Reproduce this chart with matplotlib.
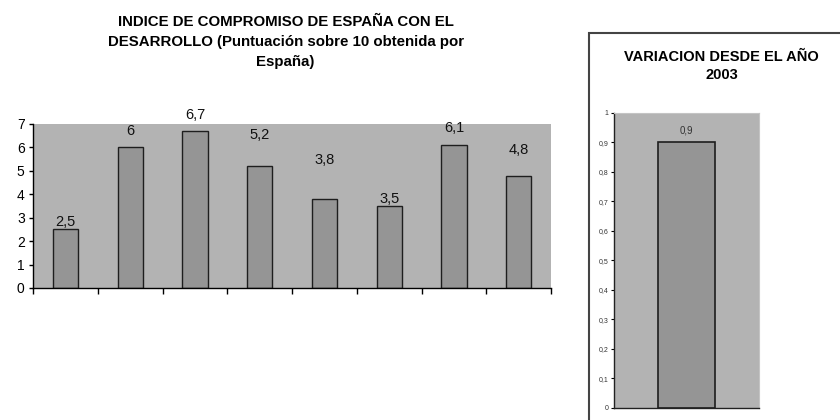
import matplotlib
matplotlib.use("Agg")
import matplotlib.pyplot as plt
from matplotlib.patches import Rectangle
import numpy as np

plt.rcParams['font.family'] = ['Liberation Sans', 'DejaVu Sans']

# Puntuación sobre 10 obtenida por España en cada componente del índice
scores = [2.5, 6.0, 6.7, 5.2, 3.8, 3.5, 6.1, 4.8]
# Altura extra de cada etiqueta sobre su barra
label_offsets = [0.32, 0.7, 0.7, 1.34, 1.67, 0.3, 0.74, 1.1]
y_ticks = [0, 1, 2, 3, 4, 5, 6, 7]

# Variación desde el año 2003
variation = [0.9]
var_ticks = [0, 0.1, 0.2, 0.3, 0.4, 0.5, 0.6, 0.7, 0.8, 0.9, 1.0]

plot_bg = '#b3b3b3'
bar_color = '#959595'
edge = '#1e1e1e'

def fmt(v):
    return f"{v:g}".replace('.', ',')

fig = plt.figure(figsize=(8.4, 4.2), dpi=100)
fig.patch.set_facecolor('white')

# ---- Gráfico principal ----
ax = fig.add_axes([0.0393, 0.3143, 0.6167, 0.3905])
ax.set_facecolor(plot_bg)
x = np.arange(len(scores))
ax.bar(x, scores, width=0.39, color=bar_color, edgecolor=edge, linewidth=1.0, zorder=2)
for xi, v, off in zip(x, scores, label_offsets):
    ax.text(xi, v + off, fmt(v), ha='center', va='center', fontsize=10.5, color='#111111')
ax.set_xlim(-0.5, len(scores) - 0.5)
ax.set_ylim(0, 7)
ax.set_yticks(y_ticks)
ax.set_yticklabels([fmt(t) for t in y_ticks], fontsize=10)
ax.set_xticks(np.arange(-0.5, len(scores), 1.0))
ax.set_xticklabels([])
ax.tick_params(axis='x', direction='out', length=4, width=1, color='black')
ax.tick_params(axis='y', direction='out', length=3, width=1, color='black', pad=3)
for s in ['top', 'right']:
    ax.spines[s].set_visible(False)
for s in ['left', 'bottom']:
    ax.spines[s].set_color('black')
    ax.spines[s].set_linewidth(1.0)

fig.text(0.34, 0.9, "INDICE DE COMPROMISO DE ESPAÑA CON EL\n"
         "DESARROLLO (Puntuación sobre 10 obtenida por\nEspaña)",
         ha='center', va='center', fontsize=10.8, fontweight='bold',
         linespacing=1.55, multialignment='center')

# ---- Recuadro de la variación ----
fig.add_artist(Rectangle((0.701, -0.02), 0.32, 0.941, transform=fig.transFigure,
                         fill=False, edgecolor='#444444', linewidth=1.5))

ax2 = fig.add_axes([0.731, 0.0286, 0.1726, 0.7024])
ax2.set_facecolor(plot_bg)
ax2.bar([0], variation, width=0.39, color=bar_color, edgecolor=edge, linewidth=1.2, zorder=2)
ax2.text(0, variation[0] + 0.04, fmt(variation[0]), ha='center', va='center',
         fontsize=7, color='#333333')
ax2.set_xlim(-0.5, 0.5)
ax2.set_ylim(0, 1)
ax2.set_yticks(var_ticks)
ax2.set_yticklabels([fmt(round(t, 1)) for t in var_ticks], fontsize=5, color='#333333')
ax2.set_xticks([])
ax2.tick_params(axis='y', direction='out', length=2.5, width=0.8, pad=1.5)
for s in ['top', 'right']:
    ax2.spines[s].set_color('#c4c4c4')
    ax2.spines[s].set_linewidth(0.8)
for s in ['left', 'bottom']:
    ax2.spines[s].set_color('#222222')
    ax2.spines[s].set_linewidth(1.0)

fig.text(0.859, 0.843, "VARIACION DESDE EL AÑO\n2003", ha='center', va='center',
         fontsize=10.5, fontweight='bold', linespacing=1.35, multialignment='center')

fig.savefig('out.png', dpi=100)
